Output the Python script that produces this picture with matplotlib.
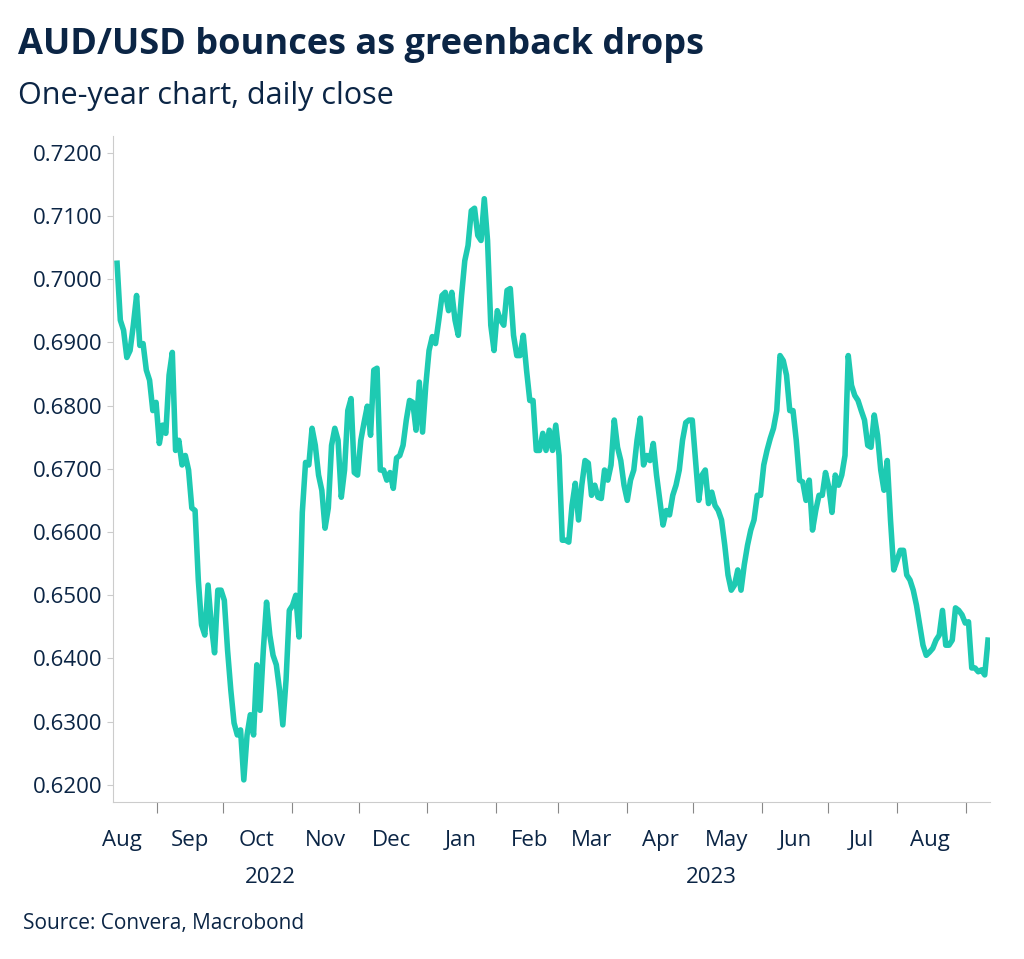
import numpy as np
import pandas as pd
import matplotlib
matplotlib.use('Agg')
import matplotlib.pyplot as plt
import matplotlib.dates as mdates

start, end = '2022-08-14', '2023-09-11'
values = [
    0.7025, 0.6935, 0.6919, 0.6876, 0.6887, 0.6927, 0.6974, 0.6895, 0.6898, 0.6856,
    0.6840, 0.6792, 0.6805, 0.6740, 0.6769, 0.6756, 0.6848, 0.6884, 0.6729, 0.6745,
    0.6706, 0.6721, 0.6698, 0.6638, 0.6634, 0.6524, 0.6453, 0.6437, 0.6516, 0.6453,
    0.6409, 0.6508, 0.6508, 0.6492, 0.6413, 0.6350, 0.6298, 0.6279, 0.6287, 0.6208,
    0.6279, 0.6311, 0.6279, 0.6390, 0.6318, 0.6413, 0.6489, 0.6437, 0.6405, 0.6390,
    0.6350, 0.6295, 0.6366, 0.6476, 0.6484, 0.6500, 0.6434, 0.6631, 0.6710, 0.6706,
    0.6764, 0.6737, 0.6690, 0.6666, 0.6606, 0.6638, 0.6737, 0.6764, 0.6745, 0.6655,
    0.6698, 0.6792, 0.6811, 0.6694, 0.6690, 0.6745, 0.6773, 0.6799, 0.6753, 0.6856,
    0.6859, 0.6698, 0.6698, 0.6682, 0.6694, 0.6669, 0.6717, 0.6721, 0.6737, 0.6777,
    0.6808, 0.6805, 0.6761, 0.6837, 0.6758, 0.6832, 0.6887, 0.6909, 0.6898, 0.6935,
    0.6974, 0.6979, 0.6950, 0.6979, 0.6935, 0.6911, 0.6974, 0.7029, 0.7053, 0.7108,
    0.7112, 0.7069, 0.7061, 0.7127, 0.7061, 0.6927, 0.6887, 0.6950, 0.6935, 0.6927,
    0.6982, 0.6985, 0.6911, 0.6879, 0.6879, 0.6911, 0.6856, 0.6808, 0.6808, 0.6729,
    0.6729, 0.6756, 0.6729, 0.6761, 0.6729, 0.6769, 0.6721, 0.6587, 0.6587, 0.6584,
    0.6642, 0.6677, 0.6619, 0.6674, 0.6713, 0.6709, 0.6658, 0.6674, 0.6655, 0.6653,
    0.6698, 0.6682, 0.6706, 0.6777, 0.6734, 0.6713, 0.6674, 0.6650, 0.6682, 0.6698,
    0.6745, 0.6780, 0.6706, 0.6721, 0.6713, 0.6740, 0.6690, 0.6650, 0.6611, 0.6634,
    0.6627, 0.6658, 0.6674, 0.6698, 0.6745, 0.6773, 0.6777, 0.6777, 0.6713, 0.6650,
    0.6690, 0.6698, 0.6645, 0.6663, 0.6642, 0.6634, 0.6619, 0.6579, 0.6532, 0.6508,
    0.6516, 0.6540, 0.6508, 0.6548, 0.6579, 0.6603, 0.6619, 0.6658, 0.6658, 0.6706,
    0.6729, 0.6748, 0.6764, 0.6792, 0.6879, 0.6871, 0.6848, 0.6792, 0.6792, 0.6745,
    0.6682, 0.6679, 0.6650, 0.6682, 0.6603, 0.6634, 0.6658, 0.6658, 0.6694, 0.6671,
    0.6631, 0.6690, 0.6674, 0.6690, 0.6721, 0.6879, 0.6832, 0.6816, 0.6808, 0.6792,
    0.6777, 0.6737, 0.6734, 0.6785, 0.6753, 0.6698, 0.6666, 0.6713, 0.6619, 0.6540,
    0.6555, 0.6571, 0.6571, 0.6532, 0.6524, 0.6508, 0.6484, 0.6453, 0.6421, 0.6405,
    0.6410, 0.6416, 0.6429, 0.6437, 0.6476, 0.6421, 0.6421, 0.6429, 0.6480, 0.6476,
    0.6469, 0.6456, 0.6458, 0.6385, 0.6385, 0.6379, 0.6382, 0.6374, 0.6429,
]
dates = pd.to_datetime(np.linspace(pd.Timestamp(start).value, pd.Timestamp(end).value, len(values)))
yticks = [0.62, 0.63, 0.64, 0.65, 0.66, 0.67, 0.68, 0.69, 0.70, 0.71, 0.72]

navy = '#0b2545'
plt.rcParams['font.family'] = ['Open Sans', 'DejaVu Sans']
fig = plt.figure(figsize=(10.24, 9.59), dpi=100)
ax = fig.add_axes([0.110, 0.1637, 0.857, 0.695])
ax.plot(dates, values, color='#1ecab2', lw=4, solid_joinstyle='round')
ax.set_xlim(pd.Timestamp('2022-08-12'), pd.Timestamp('2023-09-12'))
ax.set_ylim(0.6173, 0.7227)
ax.set_yticks(yticks)
ax.set_yticklabels([f'{v:.4f}' for v in yticks])
ax.tick_params(axis='y', labelsize=16, labelcolor=navy, color='#cccccc', length=4)
for s in ['top', 'right']:
    ax.spines[s].set_visible(False)
for s in ['left', 'bottom']:
    ax.spines[s].set_color('#cccccc')

ax.xaxis.set_major_locator(mdates.MonthLocator())
ax.xaxis.set_major_formatter(plt.NullFormatter())
ax.xaxis.set_minor_locator(mdates.MonthLocator(bymonthday=16))
ax.xaxis.set_minor_formatter(mdates.DateFormatter('%b'))
ax.tick_params(axis='x', which='major', length=8, color='#888888')
ax.tick_params(axis='x', which='minor', length=0, labelsize=16, labelcolor=navy, pad=20)

ax.text(pd.Timestamp('2022-10-22'), -0.098, '2022', transform=ax.get_xaxis_transform(),
        ha='center', va='top', fontsize=16, color=navy)
ax.text(pd.Timestamp('2023-05-09'), -0.098, '2023', transform=ax.get_xaxis_transform(),
        ha='center', va='top', fontsize=16, color=navy)

fig.text(0.018, 0.953, 'AUD/USD bounces as greenback drops', fontsize=26, weight='bold',
         color=navy, va='center')
fig.text(0.018, 0.900, 'One-year chart, daily close', fontsize=22, color=navy, va='center')
fig.text(0.022, 0.037, 'Source: Convera, Macrobond', fontsize=15, color=navy, va='center')
fig.savefig('out.png', dpi=100)
